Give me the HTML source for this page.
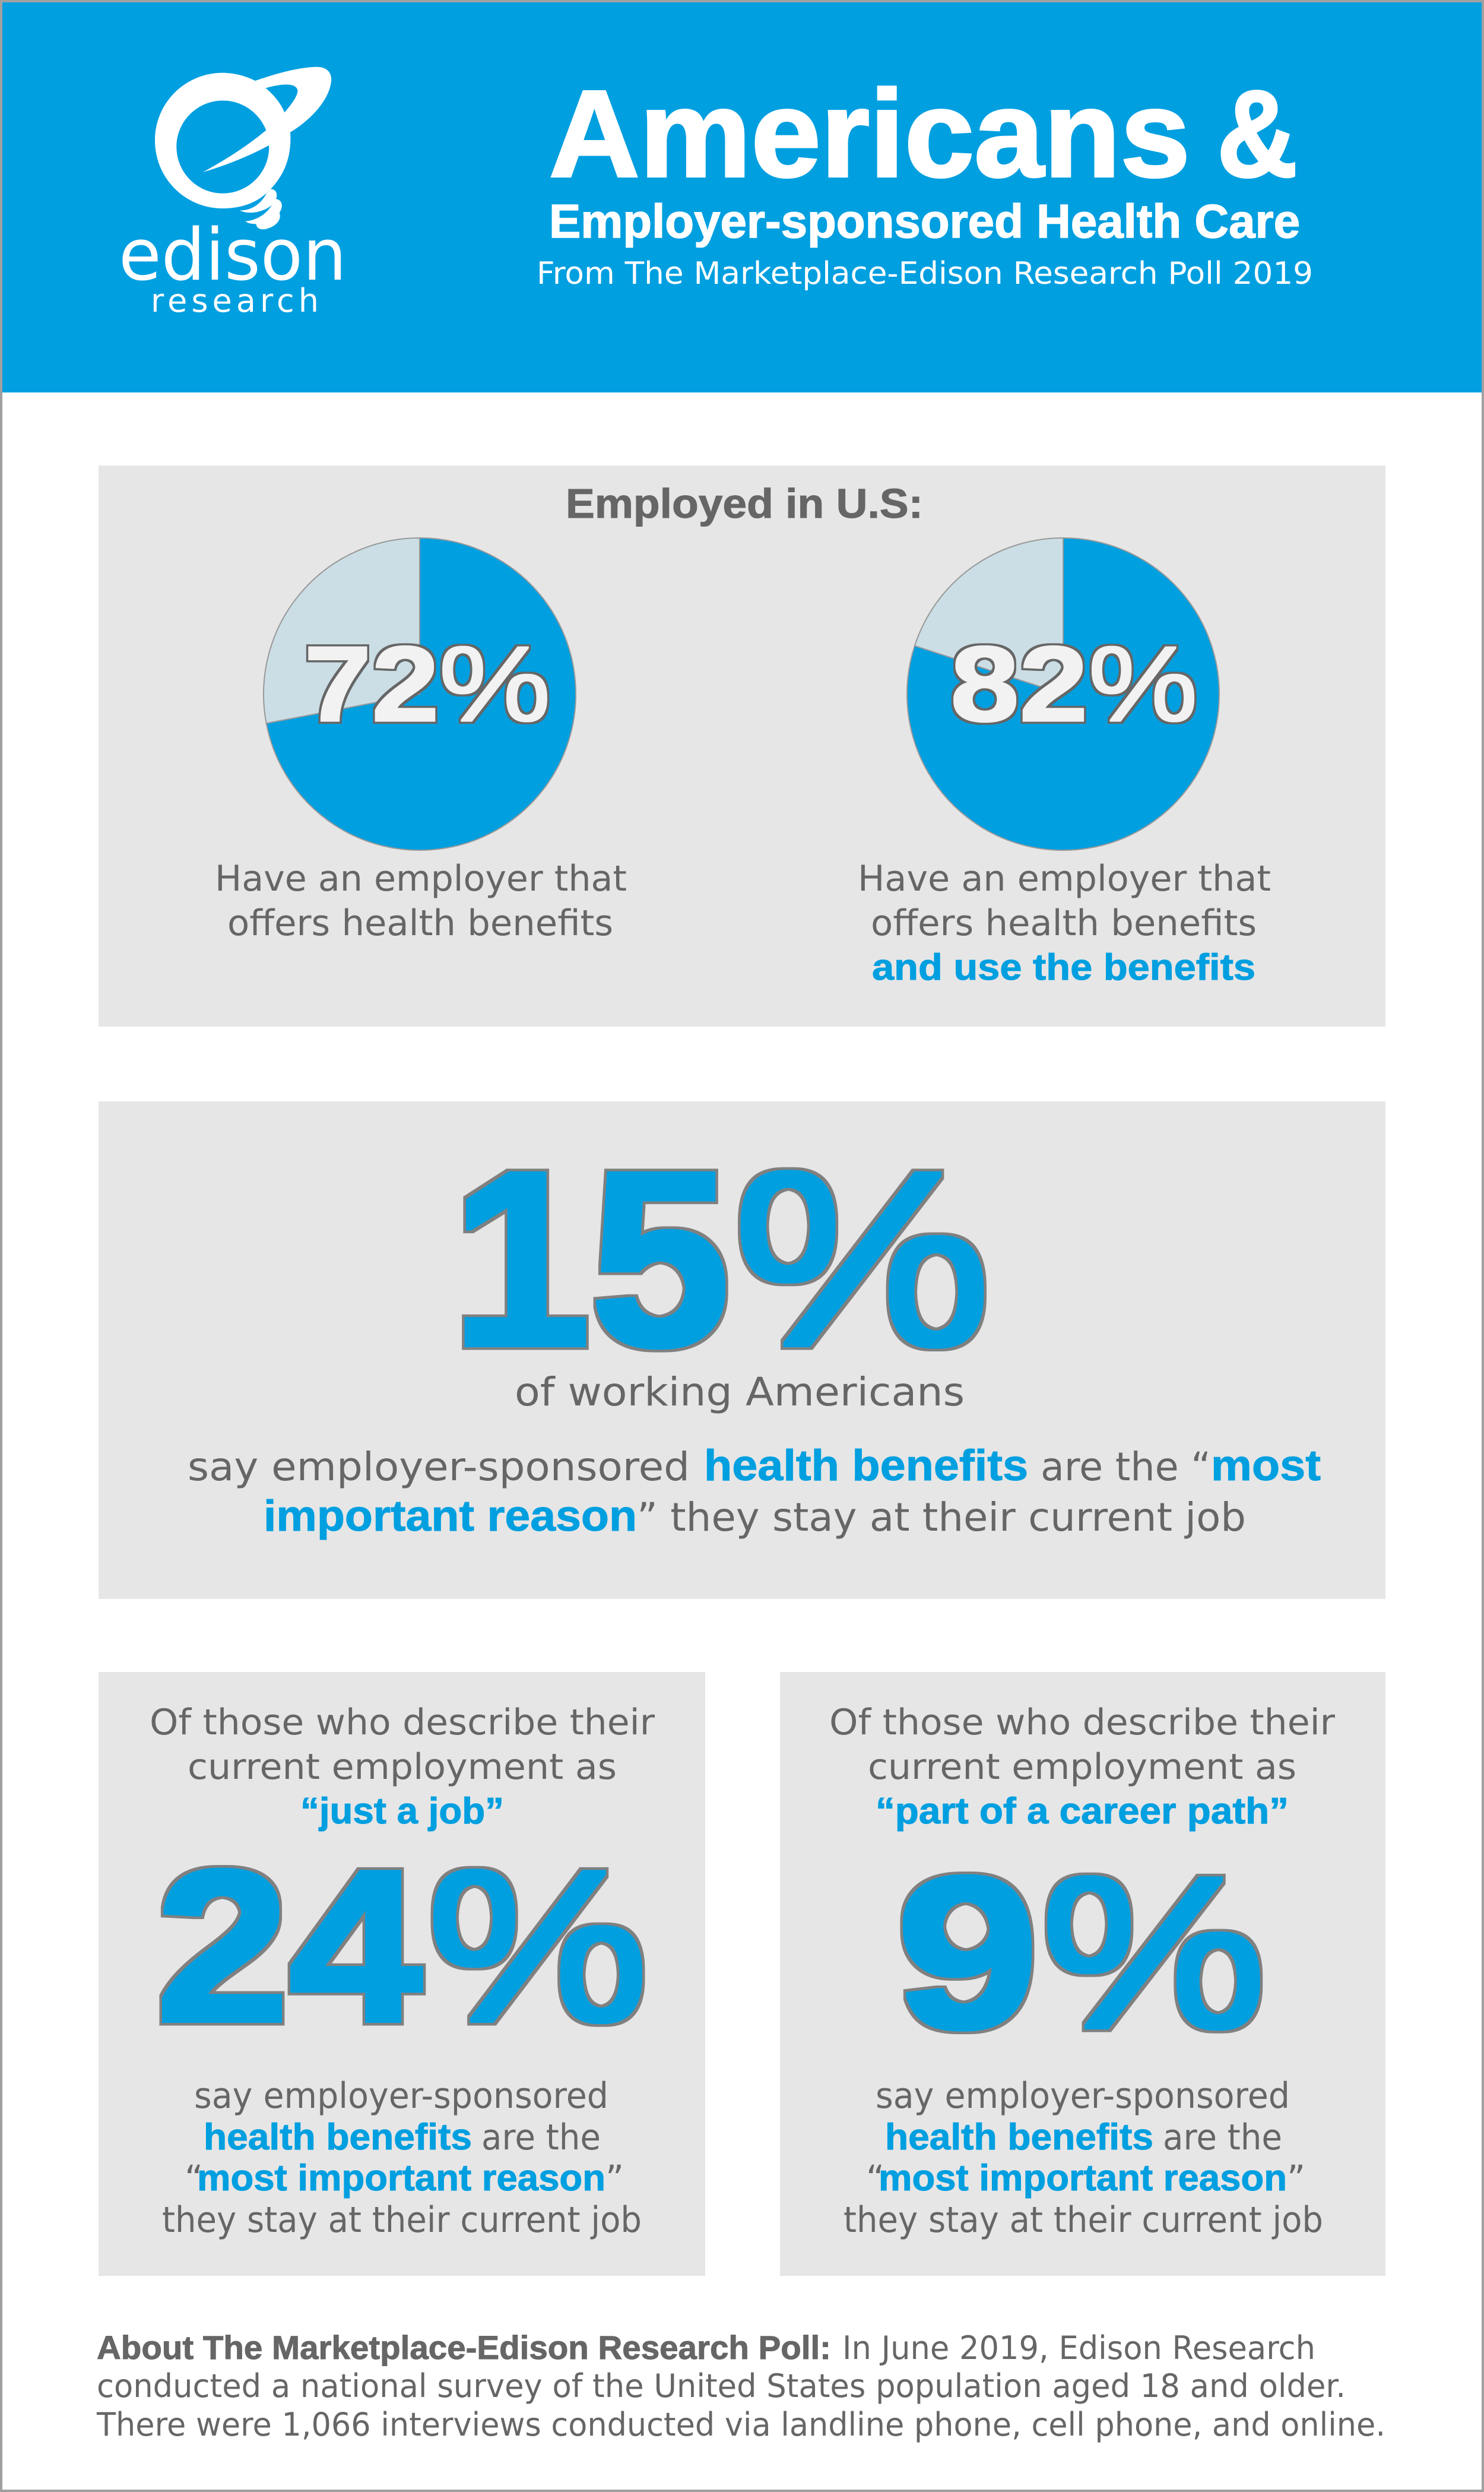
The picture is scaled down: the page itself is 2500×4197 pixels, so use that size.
<!DOCTYPE html>
<html lang="en">
<head>
<meta charset="utf-8">
<title>Americans &amp; Employer-sponsored Health Care</title>
<style>
html,body{margin:0;padding:0;background:#fff;width:2500px;height:4197px;overflow:hidden}
svg{display:block}
text{font-family:"DejaVu Sans","Liberation Sans",sans-serif;white-space:pre}
.r{fill:#666;font-size:60px}
.b,.u,.big,.pv,.tb{font-family:"Liberation Sans","DejaVu Sans",sans-serif;font-weight:700}
.b{fill:#666;stroke:#666;stroke-width:1px;font-size:62px}
.u{fill:#009fe0;stroke:#009fe0;stroke-width:1px;font-size:62px}
.p2{font-size:66px}
.u.p2{font-size:73px}
.f{font-size:54px}
.b.f{font-size:56px}
.w{fill:#fff}
.big{fill:#009fe0;filter:url(#bigOutline)}
.pv{fill:#f2f2f2;font-size:180px;filter:url(#pieOutline)}
.pct{font-weight:400}
</style>
</head>
<body>
<svg id="chart" xmlns="http://www.w3.org/2000/svg" width="2500" height="4197" viewBox="0 0 2500 4197">
  <defs>
    <filter id="bigOutline" x="-10%" y="-10%" width="120%" height="120%" color-interpolation-filters="sRGB">
      <feMorphology in="SourceAlpha" operator="dilate" radius="8.5" result="outer"/>
      <feFlood flood-color="#808080"/>
      <feComposite in2="outer" operator="in" result="ring"/>
      <feMorphology in="SourceAlpha" operator="dilate" radius="4" result="inner"/>
      <feFlood flood-color="#009fe0"/>
      <feComposite in2="inner" operator="in" result="fill"/>
      <feMerge><feMergeNode in="ring"/><feMergeNode in="fill"/></feMerge>
    </filter>
    <filter id="pieOutline" x="-10%" y="-15%" width="120%" height="130%" color-interpolation-filters="sRGB">
      <feMorphology in="SourceAlpha" operator="dilate" radius="5" result="outer"/>
      <feFlood flood-color="#666666"/>
      <feComposite in2="outer" operator="in" result="ring"/>
      <feMorphology in="SourceAlpha" operator="dilate" radius="1.5" result="inner"/>
      <feFlood flood-color="#f2f2f2"/>
      <feComposite in2="inner" operator="in" result="fill"/>
      <feMerge><feMergeNode in="ring"/><feMergeNode in="fill"/></feMerge>
    </filter>
  </defs>
  <rect x="2" y="2" width="2496" height="4193" fill="#fff" stroke="#a0a0a0" stroke-width="4"/>
  <rect x="4" y="4" width="2492" height="657" fill="#009fe0"/>

  <g>
    <g transform="translate(150 60) scale(0.33333)">
      <path fill="#fff" fill-rule="evenodd" d="M840 228C950 190 1060 160 1150 158C1205 158 1228 190 1224 230C1215 320 1130 420 1017 488C1026 620 980 710 918 775C850 850 760 873 675 873C486 873 333 720 333 530C333 340 486 188 675 188C735 188 790 203 840 228ZM893 265C940 305 970 345 988 388C1030 340 1060 295 1053 272C1040 235 960 245 893 265ZM895 478C860 390 775 328 676 328C547 328 442 433 442 562C442 692 547 797 676 797C805 797 910 692 910 562L908 555Q760 635 575 690Q760 590 895 478Z"/>
      <path fill="#fff" d="M918 775C945 775 955 800 945 825C975 830 985 860 962 895C975 925 950 965 890 978C860 982 845 968 845 952C825 952 800 948 790 938C840 935 895 905 925 855C900 880 820 912 762 883C820 885 870 850 897 797Z"/>
    </g>
    <text x="200" y="471" class="w" font-size="120" textLength="384" lengthAdjust="spacingAndGlyphs">edison</text>
    <text x="254" y="525" class="w" font-size="54" textLength="283" lengthAdjust="spacing">research</text>
  </g>

  <text x="925" y="297" class="w tb" font-size="208" stroke="#fff" stroke-width="4" textLength="1080" lengthAdjust="spacingAndGlyphs">Americans</text>
  <text x="2050" y="297" class="w tb" font-size="208" stroke="#fff" stroke-width="4" textLength="136" lengthAdjust="spacingAndGlyphs">&amp;</text>
  <text x="925" y="400" class="w tb" font-size="80" stroke="#fff" stroke-width="1.5" textLength="1265" lengthAdjust="spacingAndGlyphs">Employer-sponsored Health Care</text>
  <text x="904" y="478" class="w" font-size="52" textLength="1308" lengthAdjust="spacingAndGlyphs">From The Marketplace-Edison Research Poll 2019</text>

  <!-- Panel 1 -->
  <rect x="166" y="784" width="2168" height="945" fill="#e6e6e6"/>
  <text x="953" y="872" class="b" style="font-size:70px" textLength="602" lengthAdjust="spacingAndGlyphs">Employed in U.S:</text>
  <g id="pies"></g>
  <text x="362" y="1500" class="r" textLength="694" lengthAdjust="spacingAndGlyphs">Have an employer that</text>
  <text x="383" y="1575" class="r" textLength="650" lengthAdjust="spacingAndGlyphs">offers health benefits</text>
  <text x="1445" y="1500" class="r" textLength="696" lengthAdjust="spacingAndGlyphs">Have an employer that</text>
  <text x="1467" y="1575" class="r" textLength="650" lengthAdjust="spacingAndGlyphs">offers health benefits</text>
  <text x="1469" y="1650" class="u" textLength="646" lengthAdjust="spacingAndGlyphs">and use the benefits</text>

  <!-- Panel 2 -->
  <rect x="166" y="1855" width="2168" height="838" fill="#e6e6e6"/>
  <g>
    <text x="760" y="2265" class="big" style="font-size:419px" textLength="470" lengthAdjust="spacingAndGlyphs">15</text>
    <text x="1234" y="2265" class="big pct" style="font-size:419px" textLength="437" lengthAdjust="spacingAndGlyphs">%</text>
  </g>
  <text x="867" y="2367" class="r p2" textLength="758" lengthAdjust="spacingAndGlyphs">of working Americans</text>
  <text x="316" y="2493" class="r p2" textLength="846" lengthAdjust="spacingAndGlyphs">say employer-sponsored</text>
  <text x="1186" y="2493" class="u p2" textLength="546" lengthAdjust="spacingAndGlyphs">health benefits</text>
  <text x="1753" y="2493" class="r p2" textLength="287" lengthAdjust="spacingAndGlyphs">are the “</text>
  <text x="2040" y="2493" class="u p2" textLength="185" lengthAdjust="spacingAndGlyphs">most</text>
  <text x="444" y="2578" class="u p2" textLength="629" lengthAdjust="spacingAndGlyphs">important reason</text>
  <text x="1073" y="2578" class="r p2" textLength="1026" lengthAdjust="spacingAndGlyphs">” they stay at their current job</text>

  <!-- Panel 3 left -->
  <rect x="166" y="2816" width="1022" height="1017" fill="#e6e6e6"/>
  <text x="252" y="2921" class="r" textLength="851" lengthAdjust="spacingAndGlyphs">Of those who describe their</text>
  <text x="316" y="2996" class="r" textLength="723" lengthAdjust="spacingAndGlyphs">current employment as</text>
  <text x="506" y="3071" class="u" textLength="343" lengthAdjust="spacingAndGlyphs">“just a job”</text>
  <g>
    <text x="263" y="3403" class="big" style="font-size:363px" textLength="448" lengthAdjust="spacingAndGlyphs">24</text>
    <text x="719" y="3403" class="big pct" style="font-size:363px" textLength="374" lengthAdjust="spacingAndGlyphs">%</text>
  </g>
  <text x="327" y="3550" class="r" textLength="698" lengthAdjust="spacingAndGlyphs">say employer-sponsored</text>
  <text x="343" y="3620" class="u" textLength="452" lengthAdjust="spacingAndGlyphs">health benefits</text>
  <text x="811" y="3620" class="r" textLength="201" lengthAdjust="spacingAndGlyphs">are the</text>
  <text x="311" y="3689" class="r">“</text>
  <text x="332" y="3689" class="u" textLength="688" lengthAdjust="spacingAndGlyphs">most important reason</text>
  <text x="1020" y="3689" class="r">”</text>
  <text x="273" y="3759" class="r" textLength="808" lengthAdjust="spacingAndGlyphs">they stay at their current job</text>

  <!-- Panel 3 right -->
  <rect x="1314" y="2816" width="1020" height="1017" fill="#e6e6e6"/>
  <text x="1397" y="2921" class="r" textLength="852" lengthAdjust="spacingAndGlyphs">Of those who describe their</text>
  <text x="1462" y="2996" class="r" textLength="722" lengthAdjust="spacingAndGlyphs">current employment as</text>
  <text x="1475" y="3071" class="u" textLength="696" lengthAdjust="spacingAndGlyphs">“part of a career path”</text>
  <g>
    <text x="1510" y="3414" class="big" style="font-size:363px" textLength="240" lengthAdjust="spacingAndGlyphs">9</text>
    <text x="1753" y="3414" class="big pct" style="font-size:363px" textLength="381" lengthAdjust="spacingAndGlyphs">%</text>
  </g>
  <text x="1475" y="3550" class="r" textLength="698" lengthAdjust="spacingAndGlyphs">say employer-sponsored</text>
  <text x="1491" y="3620" class="u" textLength="452" lengthAdjust="spacingAndGlyphs">health benefits</text>
  <text x="1959" y="3620" class="r" textLength="201" lengthAdjust="spacingAndGlyphs">are the</text>
  <text x="1459" y="3689" class="r">“</text>
  <text x="1480" y="3689" class="u" textLength="688" lengthAdjust="spacingAndGlyphs">most important reason</text>
  <text x="2168" y="3689" class="r">”</text>
  <text x="1421" y="3759" class="r" textLength="808" lengthAdjust="spacingAndGlyphs">they stay at their current job</text>

  <!-- Footer -->
  <text x="163" y="3973" class="b f" textLength="1237" lengthAdjust="spacingAndGlyphs">About The Marketplace-Edison Research Poll:</text>
  <text x="1419" y="3973" class="r f" textLength="797" lengthAdjust="spacingAndGlyphs">In June 2019, Edison Research</text>
  <text x="163" y="4037" class="r f" textLength="2104" lengthAdjust="spacingAndGlyphs">conducted a national survey of the United States population aged 18 and older.</text>
  <text x="163" y="4102" class="r f" textLength="2171" lengthAdjust="spacingAndGlyphs">There were 1,066 interviews conducted via landline phone, cell phone, and online.</text>
</svg>
<script>
const pieCategories = ['offers-benefits', 'uses-benefits'];
const pieValues = [72, 80];
const pieValueLabels = ['72', '82'];

const NS = 'http://www.w3.org/2000/svg';
const pieRadius = 263;
const pieCenterY = 1169;
const pieLabelBaseline = 1214;
const pieRoot = document.getElementById('pies');

function pieCenterX(i) { return 707 + i * 1084; }
function pieDigitsStart(i) { return 512 + i * 1089; }
function piePercentStart(i) { return 739 + i * 1094; }
function pieDigitsLength(i) { return 228 + i * 4; }
function piePercentLength(i) { return 189 - i * 4; }
function valueToAngle(v) { return v / 100 * 2 * Math.PI; }
function polarX(cx, a) { return cx + pieRadius * Math.sin(a); }
function polarY(a) { return pieCenterY - pieRadius * Math.cos(a); }
function sectorPath(cx, startV, endV) {
  const a0 = valueToAngle(startV);
  const a1 = valueToAngle(endV);
  const large = endV - startV > 50 ? 1 : 0;
  return 'M' + cx + ' ' + pieCenterY +
    'L' + polarX(cx, a0) + ' ' + polarY(a0) +
    'A' + pieRadius + ' ' + pieRadius + ' 0 ' + large + ' 1 ' + polarX(cx, a1) + ' ' + polarY(a1) + 'Z';
}

pieValues.forEach(function (v, i) {
  const cx = pieCenterX(i);
  const rest = document.createElementNS(NS, 'path');
  rest.setAttribute('d', sectorPath(cx, v, 100));
  rest.setAttribute('fill', '#cbdee6');
  rest.setAttribute('stroke', '#999');
  rest.setAttribute('stroke-width', '2');
  
  
  pieRoot.appendChild(rest);

  const slice = document.createElementNS(NS, 'path');
  slice.setAttribute('d', sectorPath(cx, 0, v));
  slice.setAttribute('fill', '#009fe0');
  slice.setAttribute('stroke', '#999');
  slice.setAttribute('stroke-width', '2');
  
  
  pieRoot.appendChild(slice);

  const label = document.createElementNS(NS, 'text');
  label.setAttribute('x', pieDigitsStart(i));
  label.setAttribute('y', pieLabelBaseline);
  label.setAttribute('class', 'pv');
  label.setAttribute('textLength', pieDigitsLength(i));
  label.setAttribute('lengthAdjust', 'spacingAndGlyphs');
  label.textContent = pieValueLabels[i];
  
  
  pieRoot.appendChild(label);

  const percent = document.createElementNS(NS, 'text');
  percent.setAttribute('x', piePercentStart(i));
  percent.setAttribute('y', pieLabelBaseline);
  percent.setAttribute('class', 'pv pct');
  percent.setAttribute('textLength', piePercentLength(i));
  percent.setAttribute('lengthAdjust', 'spacingAndGlyphs');
  percent.textContent = '%';
  
  
  pieRoot.appendChild(percent);
});
</script>
</body>
</html>
